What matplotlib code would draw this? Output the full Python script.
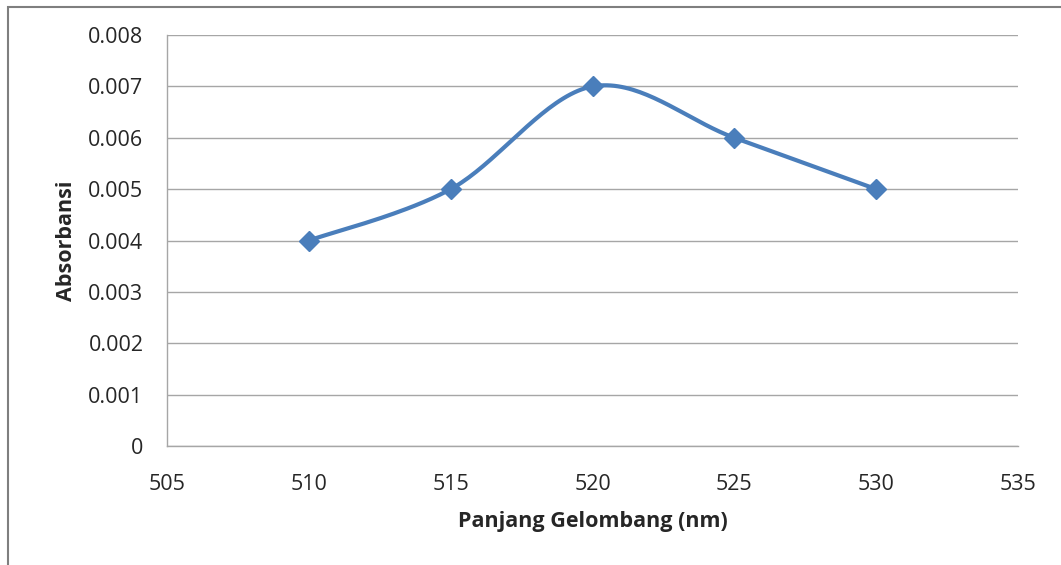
import matplotlib
matplotlib.use('Agg')
import matplotlib.pyplot as plt
from matplotlib.patches import Rectangle
import numpy as np

# data
wavelength = [510, 515, 520, 525, 530]
absorbance = [0.004, 0.005, 0.007, 0.006, 0.005]
x_ticks = [505, 510, 515, 520, 525, 530, 535]
y_ticks = [0, 0.001, 0.002, 0.003, 0.004, 0.005, 0.006, 0.007, 0.008]
y_labels = ['0', '0.001', '0.002', '0.003', '0.004', '0.005', '0.006', '0.007', '0.008']

line_color = '#4a7ebb'
grid_color = '#a6a6a6'

# Excel-style smoothed line (cubic bezier with catmull-rom control points)
def smooth_curve(xs, ys, n=40):
    xs = np.asarray(xs, float)
    ys = np.asarray(ys, float)
    px = np.concatenate([[xs[0]], xs, [xs[-1]]])
    py = np.concatenate([[ys[0]], ys, [ys[-1]]])
    out_x, out_y = [], []
    t = np.linspace(0, 1, n)
    for i in range(1, len(px) - 2):
        p0 = np.array([px[i], py[i]])
        p3 = np.array([px[i + 1], py[i + 1]])
        c1 = p0 + (np.array([px[i + 1], py[i + 1]]) - np.array([px[i - 1], py[i - 1]])) / 6
        c2 = p3 - (np.array([px[i + 2], py[i + 2]]) - np.array([px[i], py[i]])) / 6
        b = ((1 - t) ** 3)[:, None] * p0 + (3 * (1 - t) ** 2 * t)[:, None] * c1 \
            + (3 * (1 - t) * t ** 2)[:, None] * c2 + (t ** 3)[:, None] * p3
        out_x.extend(b[:, 0])
        out_y.extend(b[:, 1])
    return out_x, out_y

plt.rcParams['font.family'] = ['Open Sans', 'DejaVu Sans']

fig = plt.figure(figsize=(10.61, 5.65), dpi=100)
ax = fig.add_axes([0.1574, 0.2106, 0.8021, 0.7274])

sx, sy = smooth_curve(wavelength, absorbance)
ax.plot(sx, sy, color=line_color, linewidth=3, solid_capstyle='round', zorder=3)
ax.plot(wavelength, absorbance, linestyle='none', marker='D', markersize=10,
        color=line_color, zorder=4)

ax.set_xlim(505, 535)
ax.set_ylim(0, 0.008)
ax.set_xticks(x_ticks)
ax.set_yticks(y_ticks)
ax.set_yticklabels(y_labels)
ax.tick_params(axis='both', length=0, labelsize=15.5, colors='#262626')
ax.tick_params(axis='y', pad=17)
ax.tick_params(axis='x', pad=20)
ax.grid(axis='y', color=grid_color, linewidth=1)
ax.set_axisbelow(True)
for s in ['top', 'right']:
    ax.spines[s].set_visible(False)
for s in ['left', 'bottom']:
    ax.spines[s].set_color(grid_color)
    ax.spines[s].set_linewidth(1)

ax.set_xlabel('Panjang Gelombang (nm)', fontsize=15.5, fontweight='bold', color='#262626', labelpad=12)
ax.set_ylabel('Absorbansi', fontsize=15.5, fontweight='bold', color='#262626', labelpad=8)

# outer chart frame
fig.patches.append(Rectangle((8 / 1061, -0.01), 1.1, 1 - 7 / 565 + 0.01, transform=fig.transFigure,
                             fill=False, edgecolor='#7f7f7f', linewidth=1.5))

fig.savefig('out.png', dpi=100)
